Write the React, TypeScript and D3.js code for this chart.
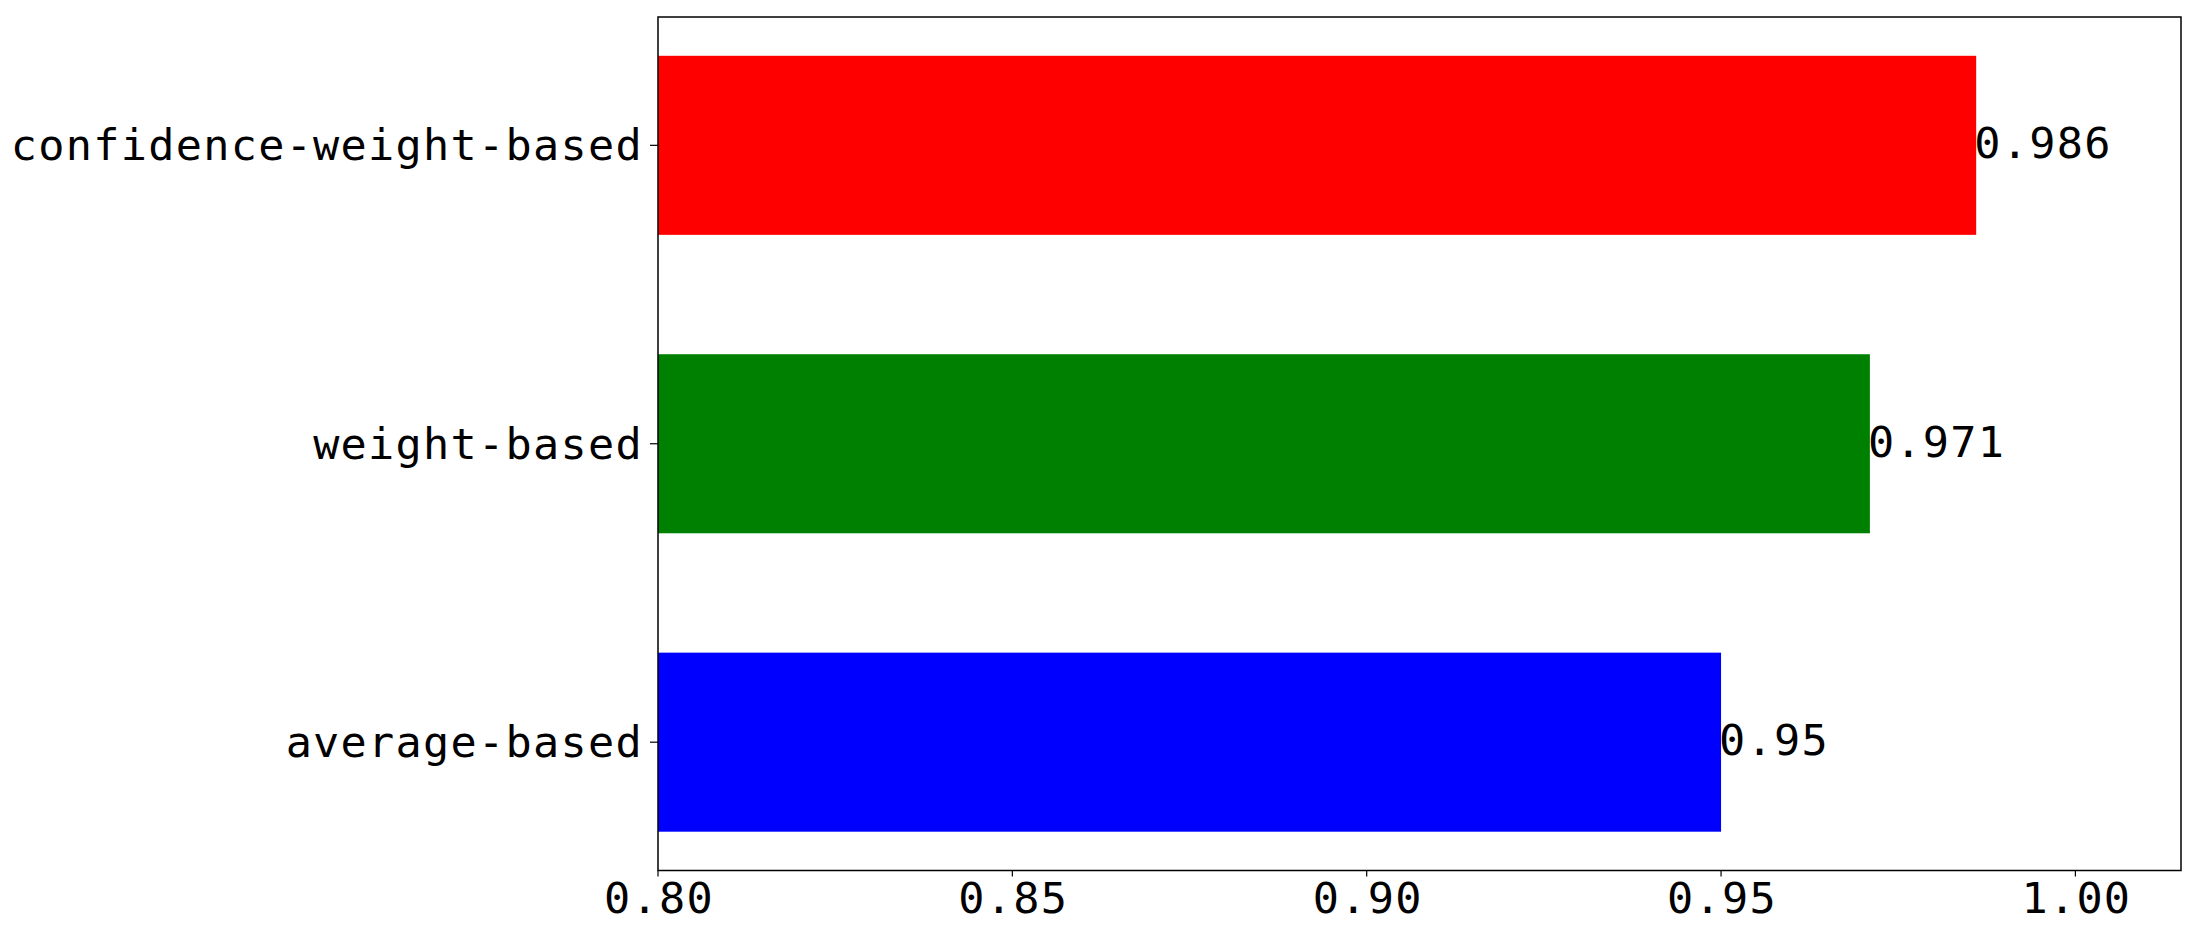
import React, { useRef, useEffect } from 'react';
import * as d3 from 'd3';

// data, top bar first
const categories = ['confidence-weight-based', 'weight-based', 'average-based'];
const scores = [0.986, 0.971, 0.95];
const barColors = ['#ff0000', '#008000', '#0000ff'];
const xTicks = [0.8, 0.85, 0.9, 0.95, 1.0];
const xTickLabels = ['0.80', '0.85', '0.90', '0.95', '1.00'];

const W = 2197;
const H = 939;
const FONT = '"DejaVu Sans Mono", "Liberation Mono", monospace';

function App() {
  const svgRef = useRef<SVGSVGElement>(null);

  useEffect(() => {
    const svg = d3.select(svgRef.current);
    svg.selectAll('*').remove();

    const left = 658, right = 2181, top = 17, bottom = 870.5;

    const x = d3.scaleLinear().domain([0.8, 1.0149]).range([left, right]);
    const y = d3.scaleBand<string>()
      .domain(categories)
      .range([top, bottom])
      .paddingInner(0.4)
      .paddingOuter(0.13);

    // bars
    svg.selectAll('.bar')
      .data(categories)
      .join('rect')
      .attr('class', 'bar')
      .attr('x', x(0.8))
      .attr('y', d => y(d)!)
      .attr('width', (d, i) => x(scores[i]) - x(0.8))
      .attr('height', y.bandwidth())
      .attr('fill', (d, i) => barColors[i]);

    // value labels
    svg.selectAll('.val')
      .data(categories)
      .join('text')
      .attr('class', 'val')
      .attr('x', (d, i) => x(scores[i]) - 2)
      .attr('y', d => y(d)! + y.bandwidth() / 2 + 13)
      .attr('font-family', FONT)
      .attr('font-size', 43.5)
      .attr('letter-spacing', 1.3)
      .attr('fill', '#000')
      .text((d, i) => String(scores[i]));

    // frame
    svg.append('rect')
      .attr('x', left)
      .attr('y', top)
      .attr('width', right - left)
      .attr('height', bottom - top)
      .attr('fill', 'none')
      .attr('stroke', '#000')
      .attr('stroke-width', 1.5);

    // x axis ticks
    const xg = svg.append('g');
    xTicks.forEach((t, i) => {
      xg.append('line')
        .attr('x1', x(t)).attr('x2', x(t))
        .attr('y1', bottom).attr('y2', bottom + 6)
        .attr('stroke', '#000').attr('stroke-width', 1.2);
      xg.append('text')
        .attr('x', x(t) + 1)
        .attr('y', 913)
        .attr('text-anchor', 'middle')
        .attr('font-family', FONT)
        .attr('font-size', 43.5)
        .attr('letter-spacing', 1.3)
        .text(xTickLabels[i]);
    });

    // y axis ticks
    const yg = svg.append('g');
    categories.forEach(c => {
      const cy = y(c)! + y.bandwidth() / 2;
      yg.append('line')
        .attr('x1', left - 8).attr('x2', left)
        .attr('y1', cy).attr('y2', cy)
        .attr('stroke', '#000').attr('stroke-width', 1.2);
      yg.append('text')
        .attr('x', 643)
        .attr('y', cy + 15)
        .attr('text-anchor', 'end')
        .attr('font-family', FONT)
        .attr('font-size', 43.5)
        .attr('letter-spacing', 1.3)
        .text(c);
    });
  }, []);

  return (
    <svg
      ref={svgRef}
      width={W}
      height={H}
      style={{ position: 'absolute', left: 0, top: 0, background: '#fff' }}
    />
  );
}

export default App;
